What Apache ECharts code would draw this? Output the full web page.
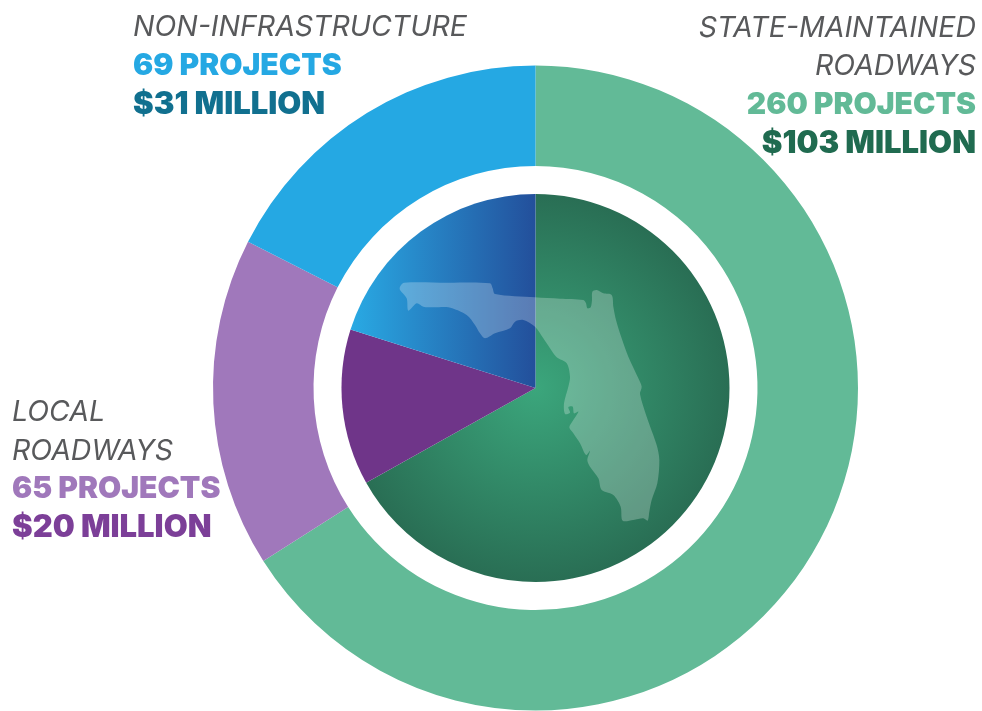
<!doctype html>
<html>
	<head>
		<meta charset="utf-8">
		<title>Projects and funding by type</title>
		<script type="text/javascript" src="https://cdn.jsdelivr.net/npm/echarts@6/dist/echarts.min.js"></script>
	</head>

	<body style="margin:0;padding:0;background:#fff">
		<div id="tb" style="width:982px;height:711px;"></div>
		<script>
			// values
			var categories = ['State-Maintained Roadways', 'Local Roadways', 'Non-Infrastructure'];
			var projects = [260, 65, 69];
			var millions = [103, 20, 31];

			var ringColors = ['#62ba97', '#a078bb', '#25a8e3'];

			// outline of the state, decoration only (traced at 3x from x=380, y=270)
			var floridaZoom = [[60,50],[72,38],[200,38],[330,40],[338,55],[345,72],[465,82],[540,86],[610,90],[618,100],[622,115],[632,112],[636,90],[637,65],[650,60],[670,70],[695,75],[700,110],[708,150],[725,205],[745,260],[775,325],[785,350],[780,372],[800,440],[830,525],[838,570],[832,640],[815,690],[808,725],[803,752],[790,745],[760,750],[728,752],[722,710],[700,675],[665,660],[655,625],[630,590],[622,570],[630,542],[618,555],[600,520],[580,490],[568,472],[580,450],[595,425],[582,430],[578,410],[565,412],[570,428],[555,432],[552,400],[565,350],[570,320],[560,280],[530,262],[510,235],[490,205],[465,170],[430,150],[405,155],[390,175],[345,190],[315,205],[300,190],[285,165],[260,135],[205,112],[160,112],[130,110],[110,100],[85,122],[80,85],[60,60]];
			var florida = floridaZoom.map(function(p) {
				return [380 + p[0] / 3, 270 + p[1] / 3];
			});

			var cx = 535.5, cy = 388;

			var innerColors = [
				{type: 'radial', x: cx, y: cy, r: 194, global: true, colorStops: [
					{offset: 0, color: '#3ba67c'}, {offset: 1, color: '#296e54'}]},
				'#6f3589',
				{type: 'linear', x: 352, y: 0, x2: 536, y2: 0, global: true, colorStops: [
					{offset: 0, color: '#29a9e3'}, {offset: 1, color: '#234f9b'}]}
			];

			function pieData(values, colors) {
				return values.map(function(v, i) {
					return {value: v, name: categories[i], itemStyle: {color: colors[i]}};
				});
			}

			var nameFont = 'italic 400 28.5px Inter';
			var countFont = '900 30px Inter';
			var moneyFont = '900 31px Inter';

			// one text line: [text, x, middle y, align, colour, font]
			var labels = [
				['NON-INFRASTRUCTURE', 133, 27, 'left', '#58595b', nameFont],
				['69 PROJECTS', 133, 66, 'left', '#25a8e3', countFont],
				['$31 MILLION', 133, 105, 'left', '#11708f', moneyFont],
				['STATE-MAINTAINED', 976, 28, 'right', '#58595b', nameFont],
				['ROADWAYS', 976, 66, 'right', '#58595b', nameFont],
				['260 PROJECTS', 976, 105, 'right', '#62ba97', countFont],
				['$103 MILLION', 976, 144, 'right', '#206b50', moneyFont],
				['LOCAL', 12, 412, 'left', '#58595b', nameFont],
				['ROADWAYS', 12, 451, 'left', '#58595b', nameFont],
				['65 PROJECTS', 12, 489, 'left', '#a078bb', countFont],
				['$20 MILLION', 12, 528, 'left', '#7c3f98', moneyFont]
			];

			var graphics = labels.map(function(l) {
				return {
					type: 'text', x: l[1], y: l[2], z: 10,
					style: {text: l[0], fill: l[4], align: l[3], verticalAlign: 'middle', font: l[5]}
				};
			});
			graphics.push({
				type: 'polygon', z: 9,
				shape: {points: florida, smooth: 0.3},
				style: {fill: 'rgba(255,255,255,0.25)'}
			});

			var chart = echarts.init(document.getElementById('tb'));
			chart.setOption({
				animation: false,
				series: [{
					type: 'pie',
					center: [cx, cy],
					radius: [222, 322.5],
					startAngle: 90,
					clockwise: true,
					silent: true,
					label: {show: false},
					labelLine: {show: false},
					data: pieData(projects, ringColors)
				}, {
					type: 'pie',
					center: [cx, cy],
					radius: [0, 194],
					startAngle: 90,
					clockwise: true,
					silent: true,
					label: {show: false},
					labelLine: {show: false},
					data: pieData(millions, innerColors)
				}],
				graphic: graphics
			});
		</script>
	</body>
</html>
